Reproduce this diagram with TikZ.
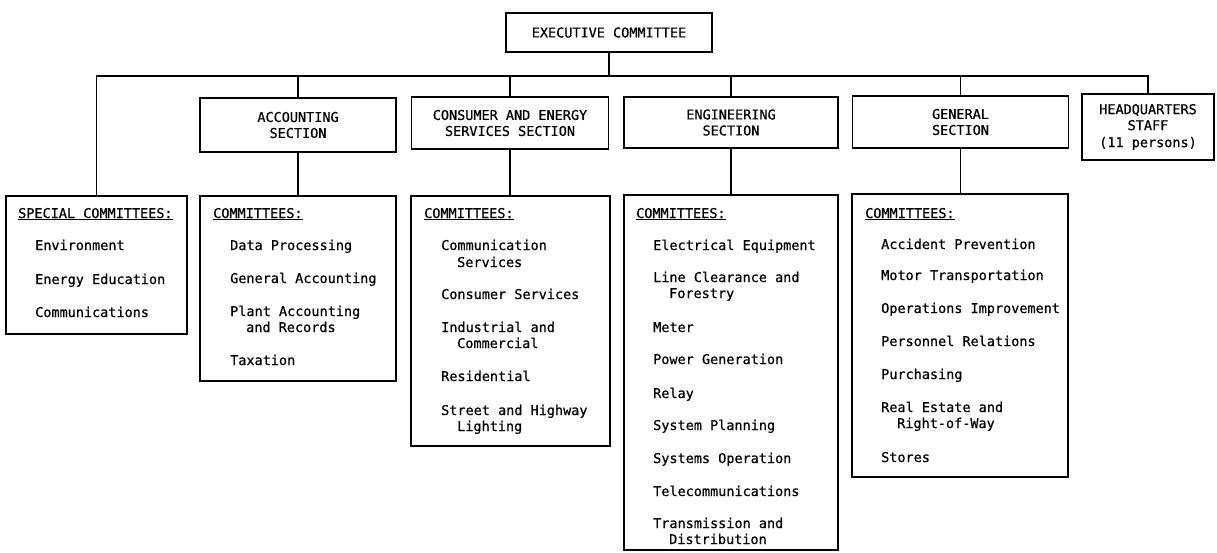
\documentclass[tikz,border=0pt]{standalone}
\usepackage{fontspec}
\setmonofont[FakeBold=0.6]{DejaVu Sans Mono}
\begin{document}
\begin{tikzpicture}[x=1pt,y=-1pt,
  base/.style={font=\fontsize{13.5}{16}\selectfont\ttfamily, inner sep=0pt},
  box/.style={base, draw, line width=1.1pt, rectangle, align=center},
  item/.style={base, anchor=base west},
  conn/.style={line width=1.1pt}]
\useasboundingbox (0,0) rectangle (1217,552);
% top
\node[box, minimum width=206pt, minimum height=39pt] (exec) at (609,32.5) {EXECUTIVE COMMITTEE};
% sections
\node[box, minimum width=196pt, minimum height=54pt] (acc) at (298,125) {ACCOUNTING\\SECTION};
\node[box, minimum width=197pt, minimum height=52pt] (con) at (510,123) {CONSUMER AND ENERGY\\SERVICES SECTION};
\node[box, minimum width=214pt, minimum height=51pt] (eng) at (731,122.5) {ENGINEERING\\SECTION};
\node[box, minimum width=216pt, minimum height=52pt] (gen) at (960.5,122) {GENERAL\\SECTION};
\node[box, minimum width=132pt, minimum height=66pt] (hq) at (1148,127) {HEADQUARTERS\\STAFF\\[1pt](11 persons)};
% committee boxes
\node[box, minimum width=181pt, minimum height=138pt] (spcC) at (96.5,265) {};
\node[box, minimum width=196pt, minimum height=185pt] (accC) at (298,288.5) {};
\node[box, minimum width=199pt, minimum height=250pt] (conC) at (510.5,321) {};
\node[box, minimum width=214pt, minimum height=355pt] (engC) at (731,372.5) {};
\node[box, minimum width=216pt, minimum height=283pt] (genC) at (960,335.5) {};
% headers
\node[item] (spcH) at (18,218) {\underline{SPECIAL COMMITTEES:}};
\node[item] (accH) at (213,218) {\underline{COMMITTEES:}};
\node[item] (conH) at (424,218) {\underline{COMMITTEES:}};
\node[item] (engH) at (636,218) {\underline{COMMITTEES:}};
\node[item] (genH) at (865,218) {\underline{COMMITTEES:}};
% items
\foreach \t/\x/\y [count=\i] in {Environment/35/245, Energy Education/35/279, Communications/35/312}
  \node[item] (spc-\i) at (\x,\y+5) {\t};
\foreach \t/\x/\y [count=\i] in {Data Processing/230/245, General Accounting/230/278, Plant Accounting/230/311, and Records/246/327, Taxation/230/360}
  \node[item] (acc-\i) at (\x,\y+5) {\t};
\foreach \t/\x/\y [count=\i] in {Communication/441/245, Services/457/262, Consumer Services/441/294, Industrial and/441/327, Commercial/457/343, Residential/441/376, Street and Highway/441/410, Lighting/457/426}
  \node[item] (con-\i) at (\x,\y+5) {\t};
\foreach \t/\x/\y [count=\i] in {Electrical Equipment/653/245, Line Clearance and/653/277, Forestry/669/293, Meter/653/327, Power Generation/653/359, Relay/653/393, System Planning/653/425, Systems Operation/653/458, Telecommunications/653/491, Transmission and/653/523, Distribution/669/539}
  \node[item] (eng-\i) at (\x,\y+5) {\t};
\foreach \t/\x/\y [count=\i] in {Accident Prevention/881/244, Motor Transportation/881/275, Operations Improvement/881/308, Personnel Relations/881/341, Purchasing/881/374, Real Estate and/881/407, Right-of-Way/897/423, Stores/881/457}
  \node[item] (gen-\i) at (\x,\y+5) {\t};
% connectors
\coordinate (busL) at (96.5,76);
\coordinate (busR) at (1148,76);
\draw[conn] (spcC.north) -- (busL) -- (busR) -- (hq.north);
\draw[conn] (exec.south) -- (exec.south |- busL);
\foreach \s in {acc,con,eng,gen}{
  \draw[conn] (\s.north |- busL) -- (\s.north);
  \draw[conn] (\s.south) -- (\s.south |- \s C.north);
}
\end{tikzpicture}
\end{document}
